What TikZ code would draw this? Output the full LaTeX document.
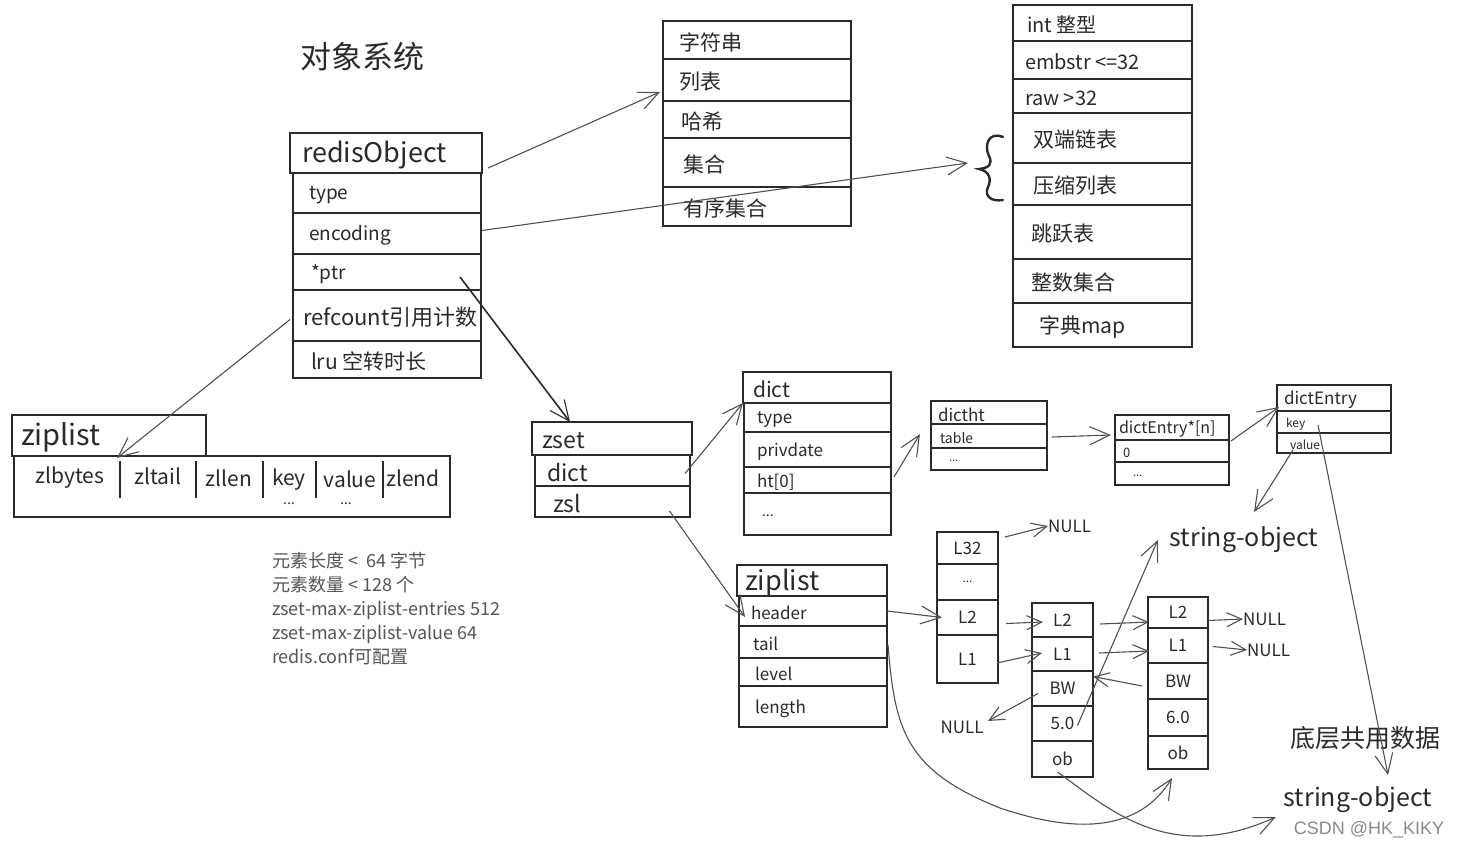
\documentclass[tikz,border=0pt]{standalone}
\usepackage{fontspec}
\setmainfont{Noto Sans CJK SC}
\newfontfamily\latinsans{Liberation Sans}
\usetikzlibrary{arrows.meta}
\definecolor{ink}{HTML}{2A2A2A}
\definecolor{arrowink}{HTML}{505050}
\definecolor{notegray}{HTML}{555555}
\definecolor{markgray}{HTML}{8A8A8A}
\newcommand\fsz[1]{\fontsize{#1}{#1}\selectfont}
\tikzset{
 cell/.style={draw=ink, line width=1.3pt, rectangle, inner sep=0pt, outer sep=0pt},
 txt/.style={inner sep=0pt, outer sep=0pt, text=ink},
 arr/.style={draw=arrowink, line width=1.1pt, -{Straight Barb[length=20pt,width=18pt,line width=1.1pt]}},
 sarr/.style={draw=arrowink, line width=1.1pt, -{Straight Barb[length=15pt,width=14pt,line width=1.1pt]}},
}
% name, x1, y1, x2, y2, text offset, text, font size
\newcommand\rowcell[8]{%
 \node[cell, minimum width={(#4-#2)*1pt}, minimum height={(#5-#3)*1pt}] (#1) at ({(#2+#4)/2},{(#3+#5)/2}) {};
 \node[txt, font=\fsz{#8}, anchor=west] (#1-t) at ([xshift=#6pt,yshift=-2pt]#1.west) {#7};}
% name, x1, y1, x2, y2, text, font size (centred text)
\newcommand\ccell[7]{%
 \node[cell, minimum width={(#4-#2)*1pt}, minimum height={(#5-#3)*1pt}, font=\fsz{#7}, text=ink] (#1) at ({(#2+#4)/2},{(#3+#5)/2}) {#6};}
\begin{document}
\begin{tikzpicture}[x=1pt,y=-1pt]
\fill[white] (0,0) rectangle (1458,850);
\useasboundingbox (0,0) rectangle (1458,850);

% title
\node[txt, font=\fsz{31}] (title) at (362,57) {对象系统};

% redisObject
\rowcell{roh}{290}{133}{482}{173}{12}{redisObject}{27}
\rowcell{rotype}{293}{173}{481}{213}{16}{type}{19}
\rowcell{roenc}{293}{213}{481}{254}{16}{encoding}{19}
\rowcell{roptr}{293}{254}{481}{290}{18}{*ptr}{19}
\rowcell{roref}{293}{290}{481}{341}{10}{refcount引用计数}{22}
\rowcell{rolru}{293}{341}{481}{378}{18}{lru 空转时长}{21}

% type box
\rowcell{ta}{663}{21}{851}{59}{16}{字符串}{21}
\rowcell{tb}{663}{59}{851}{101}{16}{列表}{21}
\rowcell{tc}{663}{101}{851}{138}{18}{哈希}{21}
\rowcell{td}{663}{138}{851}{187}{20}{集合}{21}
\rowcell{te}{663}{187}{851}{226}{20}{有序集合}{21}

% encoding box
\rowcell{ea}{1013}{5}{1192}{41}{14}{int 整型}{20}
\rowcell{eb}{1013}{41}{1192}{79}{12}{embstr <=32}{20}
\rowcell{ec}{1013}{79}{1192}{113}{12}{raw >32}{20}
\rowcell{ed}{1013}{113}{1192}{163}{20}{双端链表}{21}
\rowcell{ee}{1013}{163}{1192}{205}{20}{压缩列表}{21}
\rowcell{ef}{1013}{205}{1192}{259}{18}{跳跃表}{21}
\rowcell{eg}{1013}{259}{1192}{303}{18}{整数集合}{21}
\rowcell{eh}{1013}{303}{1192}{347}{26}{字典map}{21}

% brace
\draw[ink, line width=2.4pt, line cap=round]
  (1003,137) .. controls (988,131) and (984,146) .. (989,156)
  .. controls (993,164) and (989,168) .. (979,169)
  .. controls (989,171) and (992,179) .. (988,187)
  .. controls (984,196) and (991,202) .. (1003,200);
\coordinate (brace) at (968,163);

% ziplist (left)
\rowcell{zlh}{12}{415}{206}{456}{9}{ziplist}{29}
\node[cell, minimum width=436pt, minimum height=61pt] (zlb) at (232,486.5) {};
\foreach \sx in {120,196,263,316,383} \draw[ink, line width=1.3pt] (\sx,461) -- (\sx,498);
\node[txt, font=\fsz{21}] (zlbytes) at (70,478) {zlbytes};
\node[txt, font=\fsz{21}] (zltail) at (158,476) {zltail};
\node[txt, font=\fsz{21}] (zllen) at (229,478) {zllen};
\node[txt, font=\fsz{21}] (zlkey) at (289,480) {key};
\node[txt, font=\fsz{21}] (zlvalue) at (350,479) {value};
\node[txt, font=\fsz{21}] (zlend) at (413,478) {zlend};
\node[txt, font=\fsz{14}] (dotsa) at (289,504) {...};
\node[txt, font=\fsz{14}] (dotsb) at (346,504) {...};

% notes
\node[txt, text=notegray, font={\fontsize{18}{24}\selectfont}, align=left, anchor=north west] (notes) at (272,552)
  {元素长度 <\ \ 64 字节\\元素数量 < 128 个\\zset-max-ziplist-entries 512\\zset-max-ziplist-value 64\\redis.conf可配置};

% zset
\rowcell{zsh}{532}{422}{692}{455}{10}{zset}{23}
\rowcell{zsd}{535}{455}{690}{486}{12}{dict}{23}
\rowcell{zsl}{535}{486}{690}{517}{18}{zsl}{23}

% dict
\rowcell{dh}{743}{372}{891}{403}{10}{dict}{21}
\rowcell{dt}{744}{403}{891}{432}{13}{type}{17}
\rowcell{dp}{744}{432}{891}{467}{13}{privdate}{17}
\rowcell{dht}{744}{467}{891}{493}{13}{ht[0]}{17}
\rowcell{dx}{744}{493}{891}{535}{18}{...}{14}

% dictht
\rowcell{hh}{931}{401}{1047}{424}{7}{dictht}{17}
\rowcell{ht}{931}{424}{1047}{448}{9}{table}{14}
\rowcell{hx}{931}{448}{1047}{470}{18}{...}{11}

% dictEntry*[n]
\rowcell{deh}{1115}{415}{1229}{440}{4}{dictEntry*[n]}{16}
\rowcell{de0}{1115}{440}{1229}{462}{8}{0}{13}
\rowcell{dex}{1115}{462}{1229}{485}{18}{...}{11}

% dictEntry
\rowcell{enh}{1277}{385}{1391}{411}{7}{dictEntry}{17}
\rowcell{enk}{1277}{411}{1391}{433}{9}{key}{12}
\rowcell{env}{1277}{433}{1391}{453}{13}{value}{12}

% skiplist header box
\rowcell{slh}{737}{565}{887}{596}{8}{ziplist}{27}
\rowcell{slhd}{739}{596}{887}{626}{12}{header}{17}
\rowcell{sltl}{739}{626}{887}{658}{14}{tail}{17}
\rowcell{sllv}{739}{658}{887}{686}{16}{level}{17}
\rowcell{slln}{739}{686}{887}{727}{16}{length}{17}

% skiplist head node
\ccell{naa}{937}{532}{998}{564}{L32}{17}
\ccell{nab}{937}{564}{998}{600}{...}{12}
\ccell{nac}{937}{600}{998}{635}{L2}{17}
\ccell{nad}{937}{635}{998}{683}{L1}{17}

% node 5.0
\ccell{nba}{1032}{603}{1093}{637}{L2}{17}
\ccell{nbb}{1032}{637}{1093}{671}{L1}{17}
\ccell{nbc}{1032}{671}{1093}{706}{BW}{17}
\ccell{nbd}{1032}{706}{1093}{741}{5.0}{17}
\ccell{nbe}{1032}{741}{1093}{777}{ob}{17}

% node 6.0
\ccell{nca}{1148}{597}{1208}{628}{L2}{17}
\ccell{ncb}{1148}{628}{1208}{663}{L1}{17}
\ccell{ncc}{1148}{663}{1208}{699}{BW}{17}
\ccell{ncd}{1148}{699}{1208}{736}{6.0}{17}
\ccell{nce}{1148}{736}{1208}{769}{ob}{17}

% free texts
\node[txt, font=\fsz{17}, anchor=west] (nulla) at (1048,526) {NULL};
\node[txt, font=\fsz{17}] (nullb) at (962,727) {NULL};
\node[txt, font=\fsz{17}, anchor=west] (nullc) at (1243,619) {NULL};
\node[txt, font=\fsz{17}, anchor=west] (nulld) at (1247,650) {NULL};
\node[txt, font=\fsz{25}] (soa) at (1244,540) {string-object};
\node[txt, font=\fsz{25}] (sob) at (1358,800) {string-object};
\node[txt, font=\fsz{25}] (shared) at (1365,738) {底层共用数据};
\node[txt, text=markgray, font=\latinsans\fsz{18}] (csdn) at (1369,830) {CSDN @HK\_KIKY};

% connectors
\draw[arr] ([shift={(6,15)}]roh.east) -- ([shift={(-3,12)}]tb.west);
\draw[arr] ([shift={(1,-3)}]roenc.east) -- (brace);
\draw[arr, draw=ink, line width=1.6pt] ([shift={(-21,5)}]roptr.east) -- ([xshift=-42pt]zsh.north);
\draw[arr] ([shift={(-3,4)}]roref.west) -- ([shift={(103,2)}]zlb.north west);
\draw[arr] ([shift={(-5,3)}]zsd.east) -- (dh.south west);
\draw[arr] ([shift={(3,-3)}]dht.east) -- ([shift={(-11,-2)}]ht.west);
\draw[arr] ([shift={(5,1)}]ht.east) -- ([shift={(-4,-5)}]deh.south west);
\draw[arr] ([shift={(2,1)}]deh.south east) -- ([shift={(2,-4)}]enh.south west);
\draw[arr] ([shift={(16,7)}]env.west) -- ([shift={(10,-28)}]soa.center);
\draw[arr] ([shift={(41,3)}]enk.west) -- ([shift={(30,-25)}]sob.center);
\draw[arr] ([shift={(57,-6)}]zsl.south) -- ([shift={(6,6)}]slhd.west);
\draw[arr] (slhd.east) -- ([xshift=5pt]nac.west);
\draw[sarr] ([shift={(7,-11)}]naa.east) -- (nulla.west);
\draw[sarr] ([shift={(8,6)}]nac.east) -- ([shift={(11,2)}]nba.west);
\draw[sarr] ([shift={(-1,4)}]nad.east) -- ([shift={(10,-1)}]nbb.west);
\draw[sarr] ([shift={(6,5)}]nbc.west) -- ([shift={(26,-6)}]nullb.center);
\draw[arr] ([shift={(15,2)}]nbd.center) -- ([xshift=-12pt]soa.west);
\draw[sarr] ([shift={(7,4)}]nba.east) -- ([shift={(1,9.5)}]nca.west);
\draw[sarr] ([shift={(6,-1)}]nbb.east) -- ([shift={(1,5.5)}]ncb.west);
\draw[sarr] ([shift={(-6,5)}]ncc.west) -- ([shift={(0,-4.5)}]ncc.west -| nbc.east);
\draw[sarr] ([shift={(0,8)}]nca.east) -- (nullc.west);
\draw[sarr] ([shift={(5,1)}]ncb.east) -- (nulld.west);
\draw[arr] ([shift={(1,3)}]sltl.east) .. controls (895,730) and (905,770) .. (1000,808)
   .. controls (1080,835) and (1140,830) .. ([shift={(-6,9)}]nce.south);
\draw[arr] ([shift={(-5,-5)}]nbe.south) .. controls (1110,810) and (1170,865) .. ([shift={(-8,17)}]sob.west);
\end{tikzpicture}
\end{document}
